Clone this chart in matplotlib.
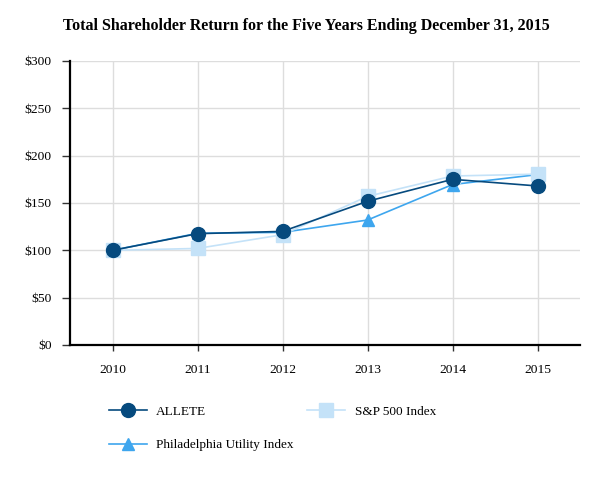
import matplotlib
matplotlib.use('Agg')
import matplotlib.pyplot as plt
import numpy as np

# Datos
anios = ['2010', '2011', '2012', '2013', '2014', '2015']
allete = [100, 117.6, 120, 151.8, 175, 168]
sp500 = [100, 102, 116.5, 157, 178.5, 180.5]
phila = [100, 118, 119, 132, 169.5, 180]
y_ticks = [0, 50, 100, 150, 200, 250, 300]

plt.rcParams['font.family'] = ['Liberation Serif', 'DejaVu Serif']

fig = plt.figure(figsize=(6.13, 4.8), dpi=100)
ax = fig.add_axes([70 / 613, 1 - 345 / 480, 510 / 613, 284 / 480])

x = np.arange(len(anios))
l1, = ax.plot(x, allete, color='#064a7e', marker='o', markersize=10, linewidth=1.2,
              label='ALLETE', zorder=5)
l2, = ax.plot(x, sp500, color='#c4e2f8', marker='s', markersize=10, linewidth=1.2,
              label='S&P 500 Index', zorder=4)
l3, = ax.plot(x, phila, color='#3ea6ee', marker='^', markersize=9, linewidth=1.2,
              label='Philadelphia Utility Index', zorder=3)

# Ejes
ax.set_xlim(-0.5, 5.5)
ax.set_ylim(0, 300)
ax.set_xticks(x, anios)
ax.set_yticks(y_ticks, ['$' + str(v) for v in y_ticks])
ax.tick_params(axis='both', labelsize=9.7, width=1, color='#333333')
ax.tick_params(axis='x', length=4.5, pad=9)
ax.tick_params(axis='y', length=6, pad=7)

for s in ['top', 'right']:
    ax.spines[s].set_visible(False)
ax.spines['left'].set_linewidth(1.6)
ax.spines['bottom'].set_linewidth(1.6)

ax.grid(color='#dddddd', linewidth=1)
ax.set_axisbelow(True)

fig.suptitle('Total Shareholder Return for the Five Years Ending December 31, 2015',
             fontsize=11.5, fontweight='bold', y=0.962)

fig.legend(handles=[l1, l3, l2], ncol=2, loc='upper left',
           bbox_to_anchor=(97 / 613, 1 - 394 / 480), frameon=False,
           fontsize=9.5, handlelength=2.9, handletextpad=0.7,
           columnspacing=1.0, labelspacing=1.6)

plt.savefig('out.png', dpi=100)
